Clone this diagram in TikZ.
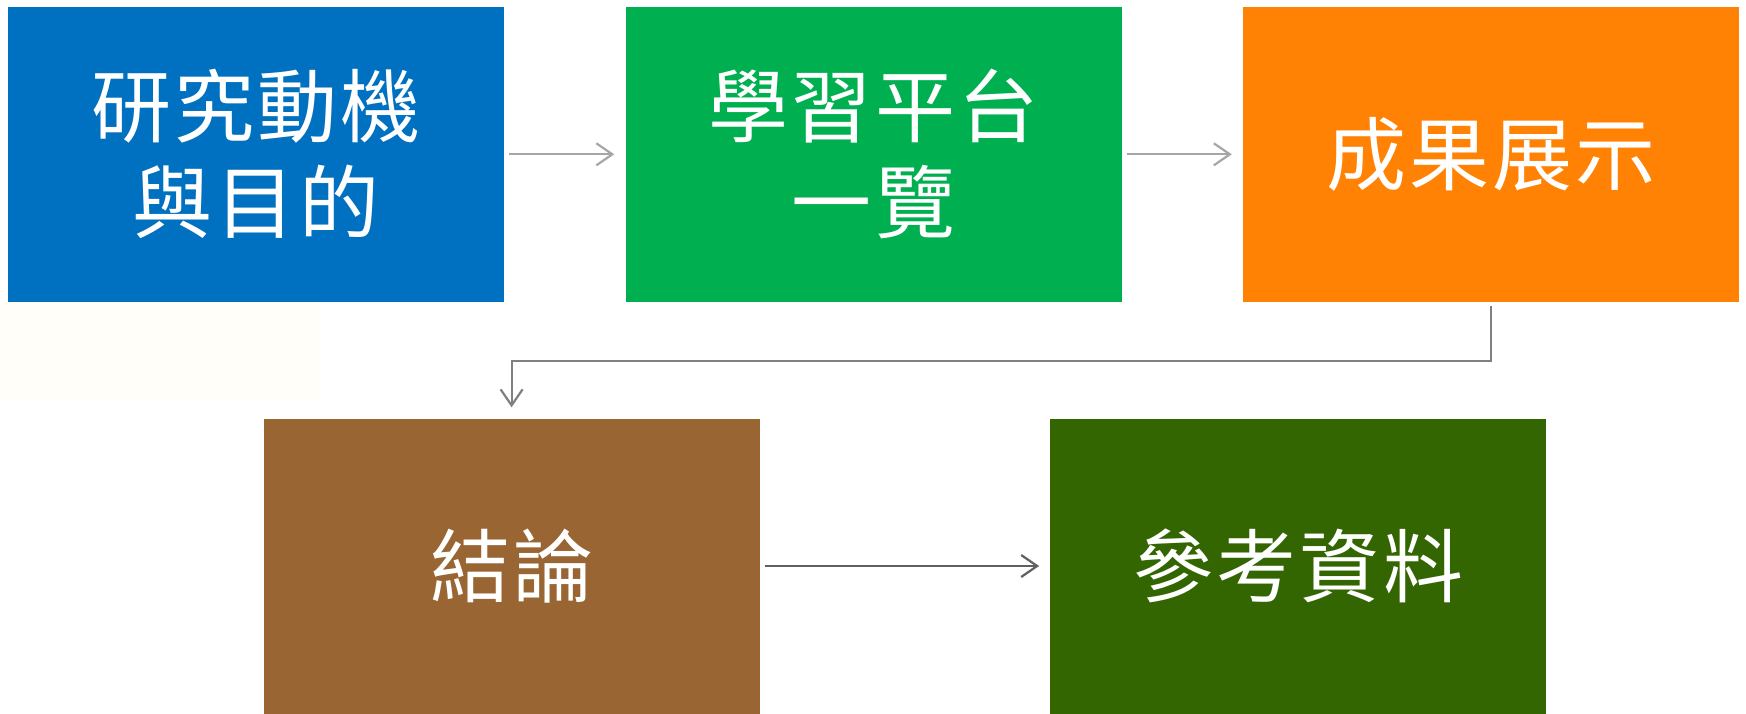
\documentclass[tikz,border=0pt]{standalone}
\usepackage{fontspec}
\newfontfamily\cjk[LetterSpace=4]{Noto Sans CJK TC}
\usetikzlibrary{arrows.meta}
\definecolor{cblue}{HTML}{0070C0}
\definecolor{cgreen}{HTML}{00B050}
\definecolor{corange}{HTML}{FF8205}
\definecolor{cbrown}{HTML}{996633}
\definecolor{cdkgreen}{HTML}{336600}
\definecolor{cream}{HTML}{FFFEF8}
\definecolor{arrlight}{HTML}{A6A6A6}
\definecolor{arrmid}{HTML}{808080}
\definecolor{arrdark}{HTML}{606060}
\tikzset{
  box/.style={rectangle, inner sep=0pt, minimum width=496pt, minimum height=295pt,
    text=white, align=center, font=\cjk\fontsize{80}{96}\selectfont},
  conn/.style={line width=2.2pt, shorten <=5pt, shorten >=11pt,
    -{Straight Barb[length=16pt,width=22pt,line width=2.2pt]}}
}
\begin{document}
\begin{tikzpicture}[x=1pt,y=-1pt]
\useasboundingbox (0,0) rectangle (1746,713);
\fill[white] (0,0) rectangle (1746,713);
\fill[cream] (0,302) rectangle (321,400);
\node[box, fill=cblue] (b1) at (256,154.3) {研究動機\\與目的};
\node[box, fill=cgreen] (b2) at (873.5,154.3) {學習平台\\一覽};
\node[box, fill=corange] (b3) at (1491,154.3) {成果展示};
\node[box, fill=cbrown] (b4) at (511.6,566) {結論};
\node[box, fill=cdkgreen] (b5) at (1298.3,566) {參考資料};
\coordinate (e1) at (b3.south |- 0,360.7);
\coordinate (e2) at (b4.north |- 0,360.7);
\draw[conn, draw=arrlight] (b1.east) -- (b2.west);
\draw[conn, draw=arrlight] (b2.east) -- (b3.west);
\draw[conn, draw=arrmid, shorten <=4pt] (b3.south) -- (e1) -- (e2) -- (b4.north);
\draw[conn, draw=arrdark] (b4.east) -- (b5.west);
\end{tikzpicture}
\end{document}
